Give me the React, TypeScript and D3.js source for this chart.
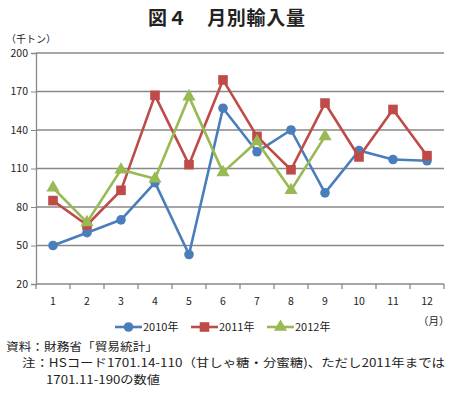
import React, { useEffect, useRef } from 'react';
import * as d3 from 'd3';

const months = ['1', '2', '3', '4', '5', '6', '7', '8', '9', '10', '11', '12'];
const yTicks = [20, 50, 80, 110, 140, 170, 200];
const seriesNames = ['2010年', '2011年', '2012年'];
const values2010 = [50, 60, 70, 99, 43, 157, 123, 140, 91, 124, 117, 116];
const values2011 = [85, 66, 93, 167, 113, 179, 135, 109, 161, 119, 156, 120];
const values2012 = [95, 68, 109, 102, 166, 107, 131, 93, 135];
const colors = ['#4a7ebb', '#be4b48', '#98b954'];
const markers = ['circle', 'square', 'triangle'];

const W = 451;
const H = 393;
const FONT = '"Noto Sans CJK JP", "Noto Sans", sans-serif';

const App: React.FC = () => {
  const svgRef = useRef<SVGSVGElement>(null);

  useEffect(() => {
    if (!svgRef.current) return;
    const svg = d3.select(svgRef.current);
    svg.selectAll('*').remove();

    const margin = { top: 53, right: 7, bottom: 109, left: 36 };
    const innerW = W - margin.left - margin.right;
    const innerH = H - margin.top - margin.bottom;

    const x = d3.scaleBand().domain(months).range([0, innerW]);
    const y = d3.scaleLinear().domain([20, 200]).range([innerH, 0]);

    // title
    svg.append('text')
      .attr('x', 148).attr('y', 25)
      .attr('textLength', 157).attr('lengthAdjust', 'spacing')
      .attr('font-family', FONT).attr('font-weight', 'bold')
      .attr('font-size', 19).attr('fill', '#222')
      .text('図４　月別輸入量');

    svg.append('text')
      .attr('x', 6).attr('y', 43)
      .attr('font-family', FONT).attr('font-size', 10).attr('fill', '#222')
      .text('（千トン）');

    const g = svg.append('g').attr('transform', `translate(${margin.left},${margin.top})`);

    // gridlines
    g.append('g').selectAll('line')
      .data(yTicks.filter(t => t !== 20))
      .join('line')
      .attr('x1', 0).attr('x2', innerW)
      .attr('y1', d => y(d)).attr('y2', d => y(d))
      .attr('stroke', '#888').attr('stroke-width', 1.3);

    // y axis
    const yAxis = g.append('g')
      .call(d3.axisLeft(y).tickValues(yTicks).tickSize(5).tickPadding(3));
    yAxis.select('.domain').attr('stroke', '#888').attr('stroke-width', 1.3);
    yAxis.selectAll('.tick line').attr('stroke', '#888');
    yAxis.selectAll('text').attr('font-family', FONT).attr('font-size', 10.5).attr('fill', '#222');

    // x axis
    const xAxis = g.append('g').attr('transform', `translate(0,${innerH})`);
    xAxis.append('line')
      .attr('x1', 0).attr('x2', innerW)
      .attr('stroke', '#888').attr('stroke-width', 1.3);
    const boundaries = d3.range(months.length + 1).map(i => i * x.step());
    xAxis.selectAll('line.tk')
      .data(boundaries)
      .join('line').attr('class', 'tk')
      .attr('x1', d => d).attr('x2', d => d)
      .attr('y1', 0).attr('y2', 5)
      .attr('stroke', '#888').attr('stroke-width', 1.3);
    xAxis.selectAll('text')
      .data(months)
      .join('text')
      .attr('x', d => (x(d) as number) + x.bandwidth() / 2)
      .attr('y', 21)
      .attr('text-anchor', 'middle')
      .attr('font-family', FONT).attr('font-size', 10.5).attr('fill', '#222')
      .text(d => d);

    svg.append('text')
      .attr('x', 418).attr('y', 325)
      .attr('font-family', FONT).attr('font-size', 10.5).attr('fill', '#222')
      .text('（月）');

    const allSeries = [values2010, values2011, values2012];
    const cx = (i: number) => (x(months[i]) as number) + x.bandwidth() / 2;
    const line = d3.line<number>().x((_, i) => cx(i)).y(d => y(d));

    const drawMarker = (sel: any, kind: string, color: string, px: number, py: number) => {
      if (kind === 'circle') {
        sel.append('circle').attr('cx', px).attr('cy', py).attr('r', 4.8).attr('fill', color);
      } else if (kind === 'square') {
        sel.append('rect').attr('x', px - 4.8).attr('y', py - 4.8).attr('width', 9.6).attr('height', 9.6).attr('fill', color);
      } else {
        const sym = d3.symbol().type(d3.symbolTriangle).size(75);
        sel.append('path').attr('transform', `translate(${px},${py})`).attr('d', sym()).attr('fill', color);
      }
    };

    allSeries.forEach((vals, si) => {
      const sg = g.append('g');
      sg.append('path')
        .datum(vals)
        .attr('d', line)
        .attr('fill', 'none')
        .attr('stroke', colors[si])
        .attr('stroke-width', 2.6)
        .attr('stroke-linejoin', 'round');
      vals.forEach((v, i) => drawMarker(sg, markers[si], colors[si], cx(i), y(v)));
    });

    // legend
    const lg = svg.append('g').attr('transform', 'translate(115,327)');
    const itemW = 76;
    seriesNames.forEach((name, i) => {
      const ig = lg.append('g').attr('transform', `translate(${i * itemW},0)`);
      ig.append('line').attr('x1', 0).attr('x2', 27).attr('y1', 0).attr('y2', 0)
        .attr('stroke', colors[i]).attr('stroke-width', 2.6);
      drawMarker(ig, markers[i], colors[i], 13.5, 0);
      ig.append('text').attr('x', 28).attr('y', 4)
        .attr('font-family', FONT).attr('font-size', 11).attr('fill', '#222')
        .text(name);
    });

    // footnotes
    const notes = [
      { x: 6, y: 351, w: 152, t: '資料：財務省「貿易統計」' },
      { x: 22, y: 367, w: 423, t: '注：HSコード1701.14-110（甘しゃ糖・分蜜糖)、ただし2011年までは' },
      { x: 46, y: 384, w: 114, t: '1701.11-190の数値' },
    ];
    svg.append('g').selectAll('text')
      .data(notes)
      .join('text')
      .attr('x', d => d.x).attr('y', d => d.y)
      .attr('textLength', d => d.w).attr('lengthAdjust', 'spacingAndGlyphs')
      .attr('font-family', FONT).attr('font-size', 11.5).attr('fill', '#222')
      .text(d => d.t);
  }, []);

  return (
    <div style={{ width: W, height: H, position: 'absolute', left: 0, top: 0, background: '#fff' }}>
      <svg ref={svgRef} width={W} height={H}></svg>
    </div>
  );
};

export default App;
